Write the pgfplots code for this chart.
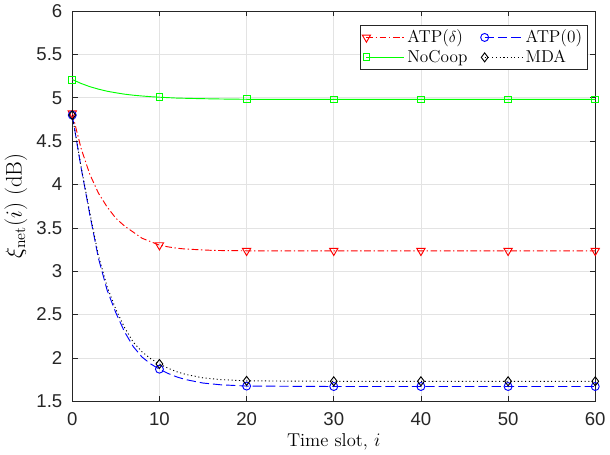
\documentclass[border=0pt]{standalone}
\usepackage{fontspec}
\newfontfamily\arial{Liberation Sans}
\usepackage{pgfplots}
\pgfplotsset{compat=1.18}
\definecolor{axgray}{RGB}{38,38,38}

\begin{document}
\begin{tikzpicture}
\begin{axis}[
  scale only axis,
  width=394pt, height=294pt,
  xmin=0, xmax=60, ymin=1.5, ymax=6,
  xtick={0,10,...,60},
  ytick={1.5,2,...,6},
  /pgf/number format/assume math mode=true,
  tick label style={font=\arial\fontsize{14}{16}\selectfont, color=axgray},
  yticklabel style={xshift=-4pt},
  xticklabel style={yshift=-5pt},
  xlabel={Time slot, $i$},
  ylabel={$\xi_{\mathrm{net}}(i)$ (dB)},
  xlabel style={font=\fontsize{14}{16}\selectfont, yshift=1pt},
  ylabel style={font=\fontsize{17}{19}\selectfont, yshift=0pt},
  axis line style={axgray},
  tick style={axgray, thin},
  major tick length=4pt,
  grid=major,
  grid style={gray!22, thin},
  legend columns=2,
  legend cell align=left,
  legend style={at={(0.985,0.965)}, anchor=north east, draw=axgray,
    font=\fontsize{13}{15}\selectfont, inner sep=1.8pt, row sep=0pt,
    /tikz/every even column/.append style={column sep=8pt}},
  legend image code/.code={
    \draw[mark repeat=2,mark phase=2,#1] plot coordinates {(0cm,0cm)(0.5cm,0cm)(1.0cm,0cm)};},
  every axis plot/.append style={line width=0.7pt},
]
\addplot[red, dash pattern=on 5pt off 2pt on 1pt off 2pt, mark=triangle, mark size=3.6pt,
  mark options={solid, rotate=180}, mark indices={1,11,21,22,23,24,25}]
  coordinates {(0,4.82)(1,4.42)(2,4.12)(3,3.90)(4,3.74)(5,3.61)(6,3.52)(7,3.45)(8,3.38)(9,3.34)
  (10,3.30)(11,3.28)(12,3.265)(13,3.255)(14,3.25)(15,3.245)(16,3.24)(17,3.238)(18,3.237)(19,3.236)
  (20,3.235)(30,3.235)(40,3.235)(50,3.235)(60,3.235)};
\addlegendentry{ATP($\delta$)}
\addplot[blue, dash pattern=on 7pt off 3pt, mark=o, mark size=3pt,
  mark options={solid}, mark indices={1,11,21,22,23,24,25}]
  coordinates {(0,4.80)(1,4.20)(2,3.66)(3,3.15)(4,2.78)(5,2.52)(6,2.30)(7,2.13)(8,2.01)(9,1.93)
  (10,1.87)(11,1.82)(12,1.78)(13,1.75)(14,1.73)(15,1.71)(16,1.70)(17,1.69)(18,1.685)(19,1.68)
  (20,1.675)(30,1.67)(40,1.67)(50,1.67)(60,1.67)};
\addlegendentry{ATP(0)}
\addplot[green, solid, mark=square, mark size=2.6pt, mark indices={1,11,16,17,18,19,20}]
  coordinates {(0,5.21)(1,5.165)(2,5.128)(3,5.099)(4,5.075)(5,5.057)(6,5.041)(7,5.029)(8,5.020)(9,5.012)
  (10,5.006)(12,4.996)(14,4.991)(16,4.987)(18,4.984)
  (20,4.982)(30,4.98)(40,4.98)(50,4.98)(60,4.98)};
\addlegendentry{NoCoop}
\addplot[black, dash pattern=on 0.8pt off 2pt, mark=diamond, mark size=3.4pt,
  mark options={solid}, mark indices={1,11,21,22,23,24,25}]
  coordinates {(0,4.80)(1,4.21)(2,3.68)(3,3.18)(4,2.82)(5,2.56)(6,2.35)(7,2.18)(8,2.07)(9,1.99)
  (10,1.93)(11,1.88)(12,1.84)(13,1.81)(14,1.79)(15,1.77)(16,1.76)(17,1.75)(18,1.745)(19,1.74)
  (20,1.735)(30,1.73)(40,1.73)(50,1.73)(60,1.73)};
\addlegendentry{MDA}
\end{axis}
\end{tikzpicture}
\end{document}
